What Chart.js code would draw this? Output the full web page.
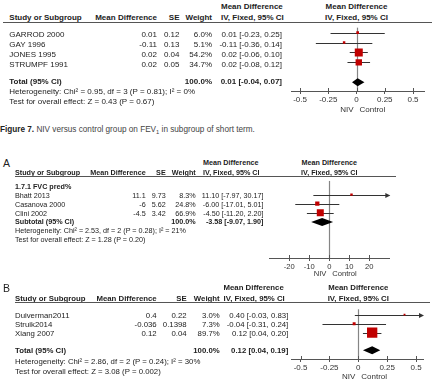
<!DOCTYPE html>
<html lang="en">
<head>
<meta charset="UTF-8">
<title>NIV versus control - forest plots</title>
<script src="https://cdn.jsdelivr.net/npm/chart.js"></script>
<style>
    body { margin: 0; background: #fff; font-family: "Liberation Sans", Arial, sans-serif; color: #222; }
    #page { position: relative; width: 436px; height: 382px; overflow: hidden; }
    .t { position: absolute; white-space: nowrap; line-height: 1; transform: translateY(-50%); }
    .r { transform: translate(-100%, -50%); }
    .c { transform: translate(-50%, -50%); }
    .b { font-weight: bold; }
    .cap { color: #444; }
    .cap b { color: #222; }
    .rule { position: absolute; height: 1px; background: #555; }
    canvas { position: absolute; left: 0; }
    sub { font-size: 70%; vertical-align: -2px; line-height: 0; }
</style>
</head>
<body>
<div id="page"></div>
<script>
    // Figure 7: FEV1, short term
    const studies1 = ['GARROD 2000', 'GAY 1996', 'JONES 1995', 'STRUMPF 1991'];
    const md1 = [0.01, -0.11, 0.02, 0.02];
    const se1 = [0.12, 0.13, 0.04, 0.05];
    const weight1 = [6.0, 5.1, 54.2, 34.7];
    const lo1 = [-0.23, -0.36, -0.06, -0.08];
    const hi1 = [0.25, 0.14, 0.10, 0.12];
    const total1 = [0.01, -0.04, 0.07];
    const het1 = 'Heterogeneity: Chi² = 0.95, df = 3 (P = 0.81); I² = 0%';
    const test1 = 'Test for overall effect: Z = 0.43 (P = 0.67)';
    const ticks1 = [-0.5, -0.25, 0, 0.25, 0.5];

    // A: FVC pred%
    const studiesA = ['Bhatt 2013', 'Casanova 2000', 'Clini 2002'];
    const mdA = [11.1, -6, -4.5];
    const seA = [9.73, 5.62, 3.42];
    const weightA = [8.3, 24.8, 66.9];
    const loA = [-7.97, -17.01, -11.20];
    const hiA = [30.17, 5.01, 2.20];
    const totalA = [-3.58, -9.07, 1.90];
    const hetA = 'Heterogeneity: Chi² = 2.53, df = 2 (P = 0.28); I² = 21%';
    const testA = 'Test for overall effect: Z = 1.28 (P = 0.20)';
    const ticksA = [-20, -10, 0, 10, 20];

    // B
    const studiesB = ['Duiverman2011', 'Struik2014', 'Xiang 2007'];
    const mdB = [0.4, -0.036, 0.12];
    const seB = [0.22, 0.1398, 0.04];
    const weightB = [3.0, 7.3, 89.7];
    const loB = [-0.03, -0.31, 0.04];
    const hiB = [0.83, 0.24, 0.20];
    const totalB = [0.12, 0.04, 0.19];
    const hetB = 'Heterogeneity: Chi² = 2.86, df = 2 (P = 0.24); I² = 30%';
    const testB = 'Test for overall effect: Z = 3.08 (P = 0.002)';
    const ticksB = [-0.5, -0.25, 0, 0.25, 0.5];

    const page = document.getElementById('page');
    const FONT = '"Liberation Sans", Arial, sans-serif';

    function addText(x, y, s, cls, size) {
        const d = document.createElement('div');
        d.className = 't ' + (cls || '');
        d.style.left = x + 'px';
        d.style.top = y + 'px';
        d.style.fontSize = size + 'px';
        d.innerHTML = s;
        page.appendChild(d);
    }

    function addRule(x0, x1, y) {
        const d = document.createElement('div');
        d.className = 'rule';
        d.style.left = x0 + 'px';
        d.style.width = (x1 - x0) + 'px';
        d.style.top = (y - 0.5) + 'px';
        page.appendChild(d);
    }

    function ciText(m, lo, hi) {
        return m.toFixed(2) + ' [' + lo.toFixed(2) + ', ' + hi.toFixed(2) + ']';
    }

    const forestPlugin = {
        id: 'forest',
        beforeDatasetsDraw(chart, args, o) {
            const { ctx, chartArea, scales: { x, y } } = chart;
            const x0 = Math.round(x.getPixelForValue(0)) + 0.5;
            ctx.save();
            ctx.strokeStyle = '#858585';
            ctx.lineWidth = 1.2;
            ctx.beginPath();
            ctx.moveTo(x0, chartArea.top);
            ctx.lineTo(x0, chartArea.bottom);
            ctx.stroke();

            ctx.strokeStyle = '#333';
            ctx.fillStyle = '#333';
            ctx.lineWidth = 1;
            o.lo.forEach((lo, i) => {
                const yy = Math.round(y.getPixelForValue(o.rows[i])) + 0.5;
                const a = x.getPixelForValue(Math.max(lo, x.min));
                const b = x.getPixelForValue(Math.min(o.hi[i], x.max));
                ctx.beginPath();
                ctx.moveTo(a, yy);
                ctx.lineTo(b, yy);
                ctx.stroke();
                if (o.hi[i] > x.max) {
                    ctx.beginPath();
                    ctx.moveTo(b + 1, yy);
                    ctx.lineTo(b - 4, yy - 2.5);
                    ctx.lineTo(b - 4, yy + 2.5);
                    ctx.closePath();
                    ctx.fill();
                }
            });
            ctx.restore();
        },
        afterDatasetsDraw(chart, args, o) {
            const { ctx, scales: { x, y } } = chart;
            const yy = y.getPixelForValue(o.totalRow);
            const xm = x.getPixelForValue(o.total[0]);
            const xl = x.getPixelForValue(o.total[1]);
            const xr = x.getPixelForValue(o.total[2]);
            ctx.save();
            ctx.fillStyle = '#000';
            ctx.beginPath();
            ctx.moveTo(xl, yy);
            ctx.lineTo(xm, yy - 4);
            ctx.lineTo(xr, yy);
            ctx.lineTo(xm, yy + 4);
            ctx.closePath();
            ctx.fill();
            ctx.restore();
        },
        afterDraw(chart, args, o) {
            const { ctx, chartArea, scales: { x } } = chart;
            ctx.save();
            ctx.strokeStyle = '#555';
            ctx.lineWidth = 1;
            x.ticks.forEach(t => {
                const px = Math.round(x.getPixelForValue(t.value)) + 0.5;
                ctx.beginPath();
                ctx.moveTo(px, chartArea.bottom - 3);
                ctx.lineTo(px, chartArea.bottom);
                ctx.stroke();
            });
            const x0 = x.getPixelForValue(0);
            ctx.fillStyle = '#333';
            ctx.font = o.labelSize + 'px ' + FONT;
            ctx.textBaseline = 'middle';
            ctx.textAlign = 'right';
            ctx.fillText('NIV', x0 - 3, chartArea.bottom + o.labelDy);
            ctx.textAlign = 'left';
            ctx.fillText('Control', x0 + 3, chartArea.bottom + o.labelDy);
            ctx.restore();
        }
    };

    function buildPanel(p) {
        const ctop = Math.round(p.top);
        const chartH = Math.round(p.axisY) - ctop;
        const canvas = document.createElement('canvas');
        canvas.width = 436;
        canvas.height = chartH + 30;
        canvas.style.top = ctop + 'px';
        page.appendChild(canvas);

        const rows = p.studies.map((s, i) => p.first + i);
        const chart = new Chart(canvas.getContext('2d'), {
            type: 'scatter',
            data: {
                datasets: [{
                    data: p.md.map((v, i) => ({ x: v, y: rows[i] })),
                    pointStyle: 'rect',
                    pointRadius: p.weight.map(w => p.k * Math.sqrt(w) / Math.SQRT2),
                    pointHoverRadius: p.weight.map(w => p.k * Math.sqrt(w) / Math.SQRT2),
                    backgroundColor: '#c00000',
                    borderWidth: 0
                }]
            },
            options: {
                responsive: false,
                animation: false,
                events: [],
                layout: { padding: { left: p.left, right: 436 - p.right, top: 0, bottom: 0 } },
                scales: {
                    x: {
                        type: 'linear',
                        min: p.min,
                        max: p.max,
                        afterBuildTicks: s => { s.ticks = p.ticks.map(v => ({ value: v })); },
                        afterFit: s => { s.height = 30; },
                        ticks: {
                            callback: v => String(v),
                            font: { size: p.tickSize, family: FONT },
                            color: '#333',
                            padding: 1,
                            maxRotation: 0,
                            autoSkip: false
                        },
                        grid: { drawOnChartArea: false, drawTicks: true, tickLength: 3, color: '#555' },
                        border: { color: '#555', width: 1 }
                    },
                    y: { display: false, reverse: true, min: 0, max: chartH / p.rowH }
                },
                plugins: {
                    legend: { display: false },
                    tooltip: { enabled: false },
                    forest: {
                        lo: p.lo, hi: p.hi, rows: rows,
                        total: p.total, totalRow: p.totalRow,
                        labelSize: p.tickSize, labelDy: p.labelDy
                    }
                }
            },
            plugins: [forestPlugin]
        });

        const ys = chart.scales.y;
        const x0 = chart.scales.x.getPixelForValue(0);
        const f = p.font;
        const rowY = r => ctop + ys.getPixelForValue(r);

        if (p.letter) addText(3, p.headY1, p.letter, '', 10.5);
        addText(p.ciHeadL, p.headY1, 'Mean Difference', 'b', f);
        addText(x0, p.headY1, 'Mean Difference', 'b c', f);
        addText(p.studyX, p.headY2, 'Study or Subgroup', 'b', f);
        addText(p.mdR, p.headY2, 'Mean Difference', 'b r', f);
        addText(p.seR, p.headY2, 'SE', 'b r', f);
        addText(p.wR, p.headY2, 'Weight', 'b r', f);
        addText(p.ciHeadL, p.headY2, 'IV, Fixed, 95% CI', 'b', f);
        addText(x0, p.headY2, 'IV, Fixed, 95% CI', 'b c', f);
        addRule(p.ruleX0, p.ruleX1, p.top);

        if (p.subgroup) addText(p.studyX, rowY(p.first - 1) + p.textDy, p.subgroup, 'b', f);

        p.studies.forEach((s, i) => {
            const y = rowY(rows[i]) + p.textDy;
            addText(p.studyX, y, s, '', f);
            addText(p.mdR, y, String(p.md[i]), 'r', f);
            addText(p.seR, y, String(p.se[i]), 'r', f);
            addText(p.wR, y, p.weight[i].toFixed(1) + '%', 'r', f);
            addText(p.ciR, y, ciText(p.md[i], p.lo[i], p.hi[i]), 'r', f);
        });

        const ty = rowY(p.totalRow) + p.totalDy;
        addText(p.studyX, ty, p.totalLabel, 'b', f);
        addText(p.wR, ty, '100.0%', 'b r', f);
        addText(p.ciR, ty, ciText(p.total[0], p.total[1], p.total[2]), 'b r', f);
        addText(p.studyX, p.hetY, p.het, '', f);
        addText(p.studyX, p.testY, p.test, '', f);
    }

    buildPanel({
        studies: studies1, md: md1, se: se1, weight: weight1, lo: lo1, hi: hi1,
        total: total1, het: het1, test: test1, ticks: ticks1, totalLabel: 'Total (95% CI)',
        top: 22, axisY: 90.7, rowH: 10.8, first: 0.5, totalRow: 5.5, textDy: 2.3, totalDy: -0.6,
        min: -0.58, max: 0.6, left: 291, right: 424.3, k: 1.087,
        font: 8, tickSize: 8, labelDy: 18.6,
        studyX: 9.3, mdR: 157, seR: 179.5, wR: 212, ciR: 282, ciHeadL: 221,
        headY1: 6.7, headY2: 18.3, ruleX0: 3, ruleX1: 432, hetY: 92, testY: 101.7
    });

    addText(0, 130, '<b>Figure 7.</b> NIV versus control group on FEV<sub>1</sub> in subgroup of short term.', 'cap', 8.2);

    buildPanel({
        studies: studiesA, md: mdA, se: seA, weight: weightA, lo: loA, hi: hiA,
        total: totalA, het: hetA, test: testA, ticks: ticksA, totalLabel: 'Subtotal (95% CI)',
        subgroup: '1.7.1 FVC pred%', letter: 'A',
        top: 176, axisY: 258, rowH: 9.7, first: 1.5, totalRow: 4.5, textDy: 1.5, totalDy: 0.3,
        min: -30, max: 30, left: 269.3, right: 389.3, k: 0.856,
        font: 7.2, tickSize: 7.6, labelDy: 15.8,
        studyX: 15, mdR: 145.7, seR: 165.7, wR: 195.7, ciR: 263.5, ciHeadL: 203,
        headY1: 163.3, headY2: 172.5, ruleX0: 15, ruleX1: 396, hetY: 230.7, testY: 240.3
    });

    buildPanel({
        studies: studiesB, md: mdB, se: seB, weight: weightB, lo: loB, hi: hiB,
        total: totalB, het: hetB, test: testB, ticks: ticksB, totalLabel: 'Total (95% CI)',
        letter: 'B',
        top: 302, axisY: 359, rowH: 10.3, first: 0.6, totalRow: 4.56, textDy: 1.8, totalDy: 0.5,
        min: -0.58, max: 0.56, left: 291.3, right: 423, k: 1.088,
        font: 7.8, tickSize: 8, labelDy: 17.6,
        studyX: 15, mdR: 156.7, seR: 186.7, wR: 219.7, ciR: 288.3, ciHeadL: 223.5,
        headY1: 288.3, headY2: 299, ruleX0: 15, ruleX1: 430, hetY: 362, testY: 372
    });
</script>
</body>
</html>
